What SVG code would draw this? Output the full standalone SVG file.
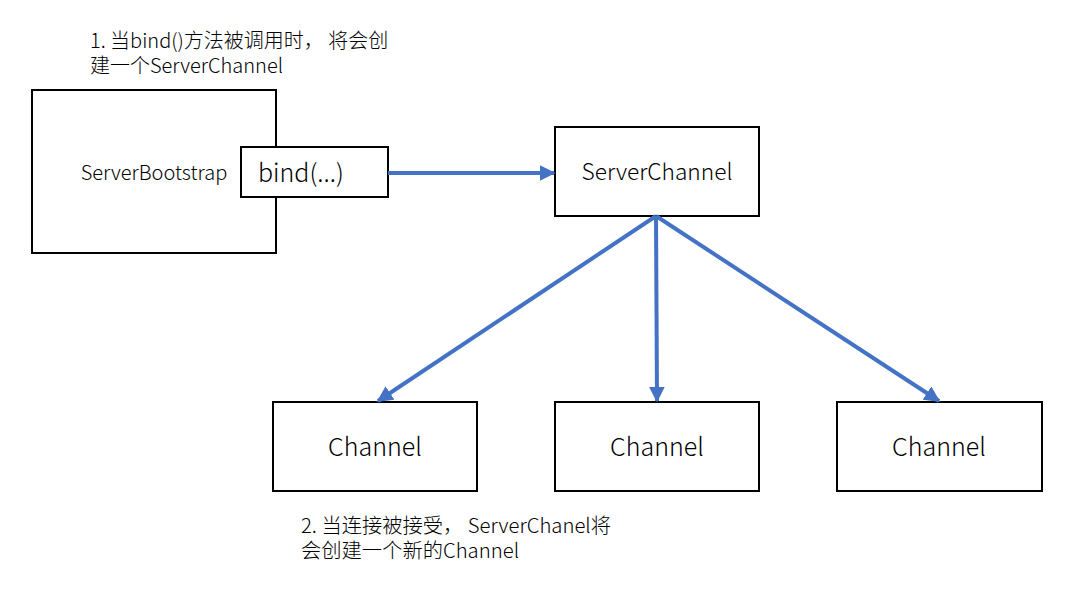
<svg xmlns="http://www.w3.org/2000/svg" width="1072" height="598" viewBox="0 0 1072 598">
<style>
.box{fill:#fff;stroke:#000;stroke-width:2}
.t{font-family:"Noto Sans CJK SC","Noto Sans",sans-serif;font-weight:300;fill:#000}
.c{stroke:#4472C4;stroke-width:4;fill:none}
</style>
<defs>
<marker id="ah" viewBox="0 0 10 10" refX="9" refY="5" markerWidth="4" markerHeight="4" orient="auto" markerUnits="strokeWidth">
<path d="M0,0 L10,5 L0,10 z" fill="#4472C4"/>
</marker>
</defs>
<rect width="1072" height="598" fill="#fff"/>
<g id="note1">
<text class="t" x="90" y="48" font-size="20">1. 当bind()方法被调用时，  将会创</text>
<text class="t" x="90" y="73" font-size="20">建一个ServerChannel</text>
</g>
<g id="serverbootstrap">
<rect class="box" x="32" y="90" width="244" height="163"/>
<text class="t" x="154" y="180" font-size="20" text-anchor="middle">ServerBootstrap</text>
</g>
<g id="bind">
<rect class="box" x="241" y="147" width="147" height="50"/>
<text class="t" x="301" y="182" font-size="25" text-anchor="middle">bind(...)</text>
</g>
<g id="serverchannel">
<rect class="box" x="555" y="127" width="204" height="89"/>
<text class="t" x="657" y="180" font-size="22.7" text-anchor="middle">ServerChannel</text>
</g>
<g id="channel1">
<rect class="box" x="273" y="402" width="204" height="89"/>
<text class="t" x="375" y="456" font-size="25" text-anchor="middle">Channel</text>
</g>
<g id="channel2">
<rect class="box" x="555" y="402" width="204" height="89"/>
<text class="t" x="657" y="456" font-size="25" text-anchor="middle">Channel</text>
</g>
<g id="channel3">
<rect class="box" x="837" y="402" width="205" height="89"/>
<text class="t" x="939" y="456" font-size="25" text-anchor="middle">Channel</text>
</g>
<g id="note2">
<text class="t" x="301" y="533" font-size="20.3">2. 当连接被接受， ServerChanel将</text>
<text class="t" x="301" y="558" font-size="20.3">会创建一个新的Channel</text>
</g>
<g id="connectors">
<line class="c" x1="388" y1="173" x2="554" y2="173" marker-end="url(#ah)"/>
<line class="c" x1="656" y1="216" x2="378" y2="401" marker-end="url(#ah)"/>
<line class="c" x1="656" y1="216" x2="657" y2="401" marker-end="url(#ah)"/>
<line class="c" x1="656" y1="216" x2="939" y2="401" marker-end="url(#ah)"/>
</g>
</svg>
